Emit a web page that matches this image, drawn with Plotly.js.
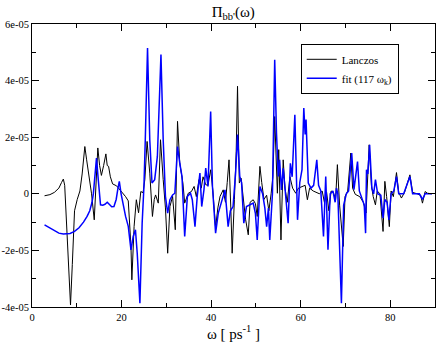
<!DOCTYPE html>
<html>
<head>
<meta charset="utf-8">
<script src="https://cdn.plot.ly/plotly-3.0.1.min.js"></script>
<style>
  html, body { margin: 0; padding: 0; background: #fff; }
  #plot { width: 436px; height: 343px; }
</style>
</head>
<body>
<div id="plot"></div>
<script>
// values, y in units of 1e-05
const lanczosW = [2.8, 4.0, 5.0, 6.0, 6.6, 7.0, 7.3, 7.7, 8.1, 8.6, 9.0, 9.5, 10.1, 10.7, 11.2, 11.8, 12.2, 12.8, 13.3, 13.9,
  14.4, 14.7, 15.1, 15.5, 16.0, 16.5, 16.8, 17.1, 17.5, 18.0, 18.9, 19.6, 20.4, 20.9, 21.5, 22.1, 22.3, 22.8, 23.3, 23.8,
  24.3, 24.8, 25.2, 25.7, 26.3, 26.9, 27.3, 27.6, 28.2, 28.7, 29.3, 29.8, 30.3, 30.8, 31.4, 32.0, 32.5, 33.0, 33.7, 34.1,
  34.9, 35.6, 36.2, 36.7, 37.3, 37.8, 38.2, 38.8, 39.3, 39.9, 40.4, 41.0, 41.5, 42.0, 42.7, 43.2, 43.6, 44.0, 44.4, 44.7,
  45.2, 45.6, 45.9, 46.3, 46.7, 47.2, 47.7, 48.3, 48.7, 49.4, 49.9, 50.3, 50.9, 51.3, 51.8, 52.4, 52.9, 53.4, 53.8, 54.2,
  54.8, 55.1, 55.6, 56.1, 56.5, 57.0, 57.6, 58.2, 58.9, 59.5, 60.3, 61.0, 61.5, 62.0, 62.8, 63.5, 64.2, 64.8, 65.3, 65.8,
  66.3, 66.8, 67.3, 67.8, 68.2, 68.7, 69.1, 69.5, 69.9, 70.5, 71.2, 71.6, 72.2, 73.2, 74.0, 74.6, 75.3, 75.8, 76.2, 76.7,
  77.1, 77.7, 78.4, 78.8, 79.2, 79.8, 80.2, 80.7, 81.4, 81.9, 82.5, 83.2, 84.4, 85.0, 86.0, 86.8, 87.2, 87.8, 88.3, 89.3];
const lanczosPi = [-0.07, -0.03, 0.05, 0.2, 0.4, 0.52, 0.3, -1.0, -2.8, -3.93, -2.5, -0.6, -0.2, 0.1, 0.7, 1.67, 1.2, 0.5, 0.0, -0.92,
  0.8, 1.62, 1.0, 0.65, 1.0, 1.41, 1.0, 0.97, 0.6, 0.35, 0.28, 0.15, -0.04, -0.1, -0.25, -1.86, -3.04, -1.16, -0.21, -0.67,
  0.08, 0.04, 0.5, 1.85, 0.73, -0.8, -0.2, -0.04, -0.33, 1.91, 0.5, -0.5, -2.1, -0.45, -0.09, -1.27, 2.56, 1.08, 0.38, -0.33,
  0.02, 0.08, 0.26, -0.1, 0.5, 0.2, 0.6, 0.32, 0.3, 0.85, 0.1, -1.2, -0.5, -0.09, 0.14, -0.3, 0.4, 1.2, -0.5, -2.1,
  -0.2, 1.5, 3.8, 0.38, 0.55, -0.3, -0.9, -1.45, -0.3, -0.21, -0.35, -0.8, 0.97, 0.4, -0.2, -0.05, -0.6, 0.0, 0.6, 2.73,
  0.02, 1.56, -1.63, 1.2, 0.2, -0.3, 0.6, 0.2, 0.02, 0.2, 0.25, 0.3, -0.21, 0.2, 0.1, 0.05, 0.0, 0.1, -0.3, 0.05,
  -0.6, 0.1, 0.05, -0.2, 1.03, -0.4, -1.2, -1.86, -0.1, 0.1, 1.44, 0.2, -0.02, -0.1, -0.3, -0.68, 1.73, 0.3, -0.1, -0.39,
  0.1, 0.0, -1.33, 0.44, -0.1, -1.16, 0.1, -0.1, 0.75, 0.05, -0.15, 0.05, 0.67, 0.05, 0.0, -0.05, -0.33, 0.08, 0.02, 0.0];

const fitW = [2.8, 4.0, 5.0, 6.0, 7.0, 7.7, 8.5, 9.5, 10.5, 11.5, 12.3, 12.9, 13.4, 13.7, 14.0, 14.4, 14.8, 15.3, 15.8, 16.3,
  16.8, 17.3, 17.8, 18.3, 18.8, 19.2, 19.5, 19.9, 20.4, 20.9, 21.5, 22.1, 22.6, 23.1, 23.5, 24.1, 24.6, 25.0, 25.3, 25.8,
  26.3, 26.8, 27.4, 28.0, 28.8, 29.3, 29.8, 30.3, 30.8, 31.4, 31.9, 32.5, 33.0, 33.5, 34.1, 34.7, 35.4, 35.8, 36.4, 36.9,
  37.5, 37.9, 38.4, 38.8, 39.3, 39.9, 40.3, 41.0, 41.6, 42.5, 43.1, 43.8, 44.3, 44.9, 45.5, 45.9, 46.4, 46.8, 47.3, 47.9,
  48.5, 49.4, 49.9, 50.3, 50.9, 51.5, 52.0, 52.4, 52.8, 53.1, 53.7, 54.2, 54.6, 55.0, 55.3, 55.7, 56.1, 56.5, 57.2, 57.7,
  58.1, 58.7, 59.3, 59.8, 60.3, 60.7, 61.0, 61.2, 61.7, 62.3, 62.9, 63.6, 64.0, 64.5, 65.1, 65.6, 66.1, 66.6, 67.2, 67.7,
  68.0, 68.3, 68.6, 69.1, 69.6, 70.2, 70.7, 71.4, 71.9, 72.7, 73.1, 73.6, 74.2, 74.5, 74.7, 75.0, 75.4, 75.9, 76.3, 76.7,
  77.2, 77.9, 78.4, 78.8, 79.3, 79.7, 80.2, 80.8, 81.4, 81.9, 83.0, 84.4, 85.0, 86.5, 87.2, 87.8, 89.3];
const fitPi = [-1.1, -1.22, -1.32, -1.39, -1.42, -1.42, -1.4, -1.33, -1.2, -1.0, -0.8, -0.6, -0.3, 0.0, 0.6, 1.26, 0.5, -0.39, -0.4, -0.37,
  -0.3, -0.38, -0.46, -0.45, -0.2, 0.2, 0.44, 0.0, -0.45, -0.8, -1.15, -1.98, -1.51, -1.27, -2.1, -3.87, -1.04, 0.26, 1.91, 5.15,
  1.91, 0.38, 0.5, 1.32, 4.92, 1.91, -0.09, -0.68, -0.21, -0.04, 0.02, 1.67, 1.08, 0.61, -1.51, -0.09, 0.02, -0.21, -1.16, -0.09,
  0.73, -0.45, 0.14, 0.91, 0.26, 2.91, 0.26, -1.39, -0.68, -0.21, 0.14, -1.16, -0.6, -0.45, 0.8, 2.09, 0.61, 0.4, -1.04, -0.45,
  -0.39, -0.33, -0.7, -1.63, 0.26, 0.0, -0.5, -1.16, -0.5, -1.63, 0.02, 4.74, 2.15, 0.61, 1.2, 0.14, 0.9, 0.2, -1.04, 1.08,
  0.6, 2.79, -0.92, 0.4, 0.85, 3.03, 2.1, 2.62, 0.38, 0.2, 0.3, 1.2, 0.3, 0.1, -1.51, 0.61, -1.98, 0.0, 0.1, -0.3,
  0.2, 0.0, -1.51, -3.87, -0.4, 0.0, 0.1, 1.44, 0.15, 1.14, 0.1, -0.1, -0.4, -1.39, 0.85, 0.7, 1.73, 0.2, 0.0, 0.5,
  0.0, -0.05, -0.86, -0.2, -0.3, -0.92, 0.0, 0.1, 0.61, 0.0, 0.0, 0.61, 0.0, 0.0, -0.2, 0.0, 0.0];

const yTickVals = [-4e-5, -2e-5, 0, 2e-5, 4e-5, 6e-5];
const yTickText = ['-4e-05', '-2e-05', '0', '2e-05', '4e-05', '6e-05'];
const xTickVals = [0, 20, 40, 60, 80];

const serif = 'Liberation Serif, Times New Roman, serif';

function scaled(arr) {
    return arr.map(v => v * 1e-5);
}

var lanczosTrace = {
    x: lanczosW,
    y: scaled(lanczosPi),
    type: 'scatter',
    mode: 'lines',
    line: { color: '#000000', width: 1 },
    name: 'Lanczos'
};

var fitTrace = {
    x: fitW,
    y: scaled(fitPi),
    type: 'scatter',
    mode: 'lines',
    line: { color: '#0000ff', width: 1.5 },
    name: 'fit (117 ω<sub>k</sub>)'
};

var layout = {
    width: 436,
    height: 343,
    margin: { l: 32, r: 1, t: 24, b: 36 },
    paper_bgcolor: '#ffffff',
    plot_bgcolor: '#ffffff',
    font: { family: serif, color: '#000000', size: 11 },
    title: {
        text: 'Π<sub>bb\'</sub>(ω)',
        font: { family: serif, size: 15 },
        x: 0.535, xanchor: 'center',
        y: 0.965, yanchor: 'middle'
    },
    xaxis: {
        range: [0, 90],
        tickmode: 'array',
        tickvals: xTickVals,
        ticks: 'inside',
        ticklen: 7,
        tickcolor: '#000',
        showline: true,
        linecolor: '#000',
        linewidth: 1,
        mirror: 'ticks',
        showgrid: false,
        zeroline: false,
        tickfont: { size: 10.5 },
        minor: { tickmode: 'linear', tick0: 0, dtick: 10, ticks: 'inside', ticklen: 4, tickcolor: '#000', showgrid: false },
        title: { text: 'ω [ ps<sup>-1</sup> ]', font: { size: 15 }, standoff: 6 }
    },
    yaxis: {
        range: [-4e-5, 6e-5],
        tickmode: 'array',
        tickvals: yTickVals,
        ticktext: yTickText,
        ticks: 'inside',
        ticklen: 7,
        tickcolor: '#000',
        showline: true,
        linecolor: '#000',
        linewidth: 1,
        mirror: 'ticks',
        showgrid: false,
        zeroline: false,
        tickfont: { size: 10.5 },
        minor: { tickmode: 'linear', tick0: -4e-5, dtick: 1e-5, ticks: 'inside', ticklen: 4, tickcolor: '#000', showgrid: false }
    },
    showlegend: true,
    legend: {
        x: 0.91, xanchor: 'right',
        y: 0.93, yanchor: 'top',
        bgcolor: '#ffffff',
        bordercolor: '#000000',
        borderwidth: 1,
        font: { family: serif, size: 11 }
    }
};

Plotly.newPlot('plot', [lanczosTrace, fitTrace], layout, { displayModeBar: false, staticPlot: true });
</script>
</body>
</html>
